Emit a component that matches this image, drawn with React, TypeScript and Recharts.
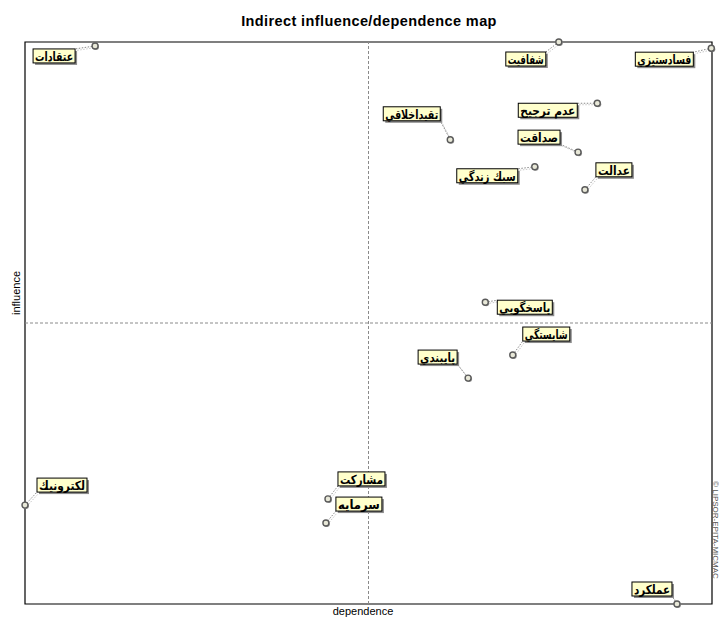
import React from 'react';
import {
  ScatterChart,
  Scatter,
  XAxis,
  YAxis,
  ReferenceLine,
  ReferenceArea,
  Customized,
} from 'recharts';

const variables = [
  'عتقادات',
  'شفافيت',
  'فسادستيزي',
  'عدم ترجيح',
  'تقيداخلاقي',
  'صداقت',
  'سبك زندگي',
  'عدالت',
  'پاسخگويي',
  'شايستگي',
  'پايبندي',
  'لكترونيك',
  'مشاركت',
  'سرمايه',
  'عملكرد',
];

const dependence = [10.2, 77.7, 99.9, 83.3, 61.9, 80.5, 74.2, 81.5, 67.0, 71.0, 64.5, 0.0, 44.1, 43.8, 94.9];
const influence = [99.3, 100.0, 98.9, 89.1, 82.6, 80.4, 77.8, 73.7, 53.7, 44.3, 40.2, 17.6, 18.7, 14.4, 0.0];

// label box placement relative to each point (layout only)
const labelOffsetX = [-62, -53, -76, -79, -67, -60, -78, 11, 12, 10, -50, 12, 10, 10, -45];
const labelOffsetY = [3, 10, 4, 0, -33, -22, 2, -27, -2, -28, -28, -27, -27, -26, -22];
const labelWidth = [42, 40, 58, 59, 57, 42, 61, 36, 55, 47, 39, 50, 47, 46, 40];

const data = variables.map((name, i) => ({ name, x: dependence[i], y: influence[i], i }));

const W = 719;
const H = 619;

function PointShape(props: any) {
  const { cx, cy, payload } = props;
  if (cx == null || cy == null || !payload) return null;
  const i = payload.i;
  const bx = cx + labelOffsetX[i];
  const by = cy + labelOffsetY[i];
  const bw = labelWidth[i];
  const bh = 14;
  const corners = [
    [bx, by],
    [bx + bw, by],
    [bx, by + bh],
    [bx + bw, by + bh],
  ];
  let best = corners[0];
  let bd = Infinity;
  for (const c of corners) {
    const d = (c[0] - cx) ** 2 + (c[1] - cy) ** 2;
    if (d < bd) {
      bd = d;
      best = c;
    }
  }
  return (
    <g>
      <line x1={cx + 1.5} y1={cy + 1.5} x2={best[0] + 1.5} y2={best[1] + 1.5} stroke="#c8c8c8" strokeWidth={1} strokeDasharray="1.5 1.5" />
      <line x1={cx} y1={cy} x2={best[0]} y2={best[1]} stroke="#8a8a8a" strokeWidth={1} strokeDasharray="1.5 1.5" />
      <rect x={bx + 2} y={by + 2} width={bw} height={bh} fill="#8c8c8c" />
      <rect x={bx} y={by} width={bw} height={bh} fill="#ffffcc" stroke="#000" strokeWidth={1} />
      <text
        x={bx + bw / 2}
        y={by + bh / 2 + 0.5}
        dominantBaseline="central"
        textAnchor="middle"
        fontSize={12.5}
        fontWeight="bold"
        fontFamily="'DejaVu Sans', sans-serif"
        textLength={bw - 4}
        lengthAdjust="spacingAndGlyphs"
        fill="#000"
      >
        {payload.name}
      </text>
      <circle cx={cx + 1} cy={cy + 1} r={3} fill="#9a9a9a" />
      <circle cx={cx} cy={cy} r={3} fill="#e8e8d8" stroke="#5a5a5a" strokeWidth={1.4} />
    </g>
  );
}

function Texts() {
  return (
    <g>
      <text x={369} y={26} textAnchor="middle" fontSize={14.5} fontWeight="bold" fontFamily="'Liberation Sans', Arial, sans-serif" fill="#000" letterSpacing={0.4}>
        Indirect influence/dependence map
      </text>
      <text x={363} y={615} textAnchor="middle" fontSize={11} fontFamily="'Liberation Sans', Arial, sans-serif" fill="#000">
        dependence
      </text>
      <text x={20} y={293} textAnchor="middle" fontSize={11} fontFamily="'Liberation Sans', Arial, sans-serif" fill="#000" transform="rotate(-90 20 293)">
        influence
      </text>
      <text x={713} y={530} textAnchor="middle" fontSize={8} fontFamily="'Liberation Sans', Arial, sans-serif" fill="#555" transform="rotate(90 713 530)">
        © LIPSOR-EPITA-MICMAC
      </text>
    </g>
  );
}

export default function App() {
  return (
    <div style={{ position: 'absolute', left: 0, top: 0, width: W, height: H, background: '#fff' }}>
      <ScatterChart width={W} height={H} margin={{ top: 42, right: 7, bottom: 15, left: 25 }}>
        <XAxis type="number" dataKey="x" domain={[0, 100]} hide />
        <YAxis type="number" dataKey="y" domain={[0, 100]} hide />
        <ReferenceArea x1={0} x2={100} y1={0} y2={100} fill="#fff" fillOpacity={0} stroke="#000" strokeWidth={1.2} />
        <ReferenceLine x={50} stroke="#8a8a8a" strokeDasharray="3 2" />
        <ReferenceLine y={50} stroke="#8a8a8a" strokeDasharray="3 2" />
        <Scatter data={data} shape={PointShape} isAnimationActive={false} />
        <Customized component={Texts} />
      </ScatterChart>
    </div>
  );
}
